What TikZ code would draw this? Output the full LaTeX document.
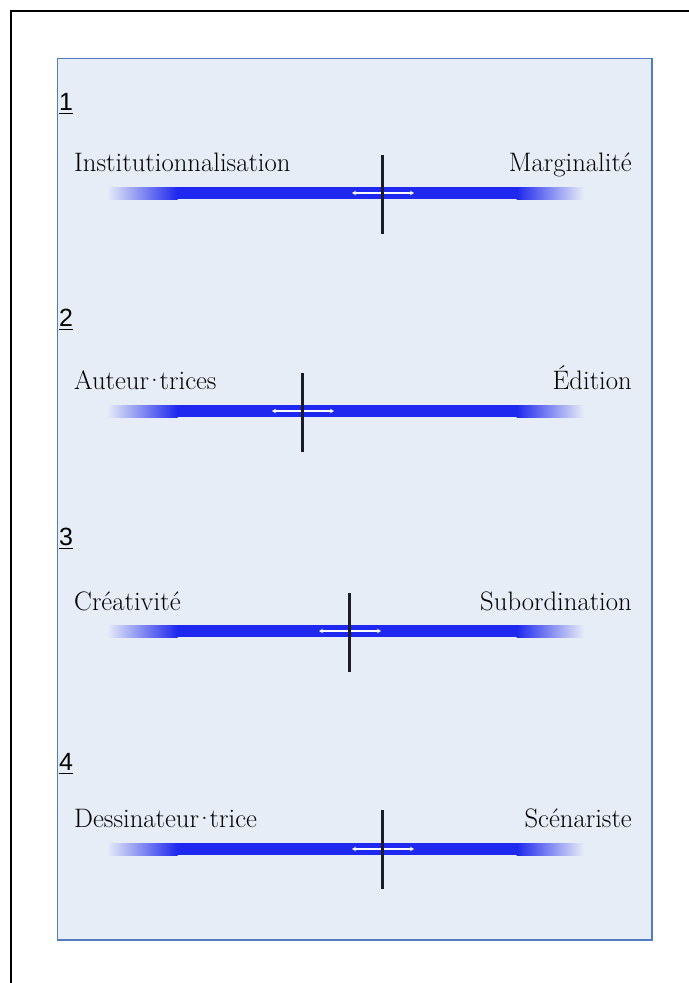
\documentclass[tikz,border=0pt]{standalone}
\usepackage{fontspec}
\newfontfamily\numfont{Liberation Sans}
\usetikzlibrary{arrows.meta}
\definecolor{fundo}{RGB}{231,237,246}
\definecolor{borda}{RGB}{79,125,190}
\definecolor{azul}{RGB}{30,40,238}
\definecolor{marca}{RGB}{28,28,40}

\begin{document}
\begin{tikzpicture}[x=1bp, y=-1bp,
    numero/.style={anchor=base west, inner sep=0pt, font=\numfont\fontsize{25}{29}\selectfont},
    rotulo/.style={inner sep=0pt, font=\fontsize{26.8}{31}\selectfont},
    barraE/.style={left color=fundo, right color=azul},
    barraD/.style={left color=azul, right color=fundo},
    marcador/.style={line width=3bp, marca},
    seta/.style={white, line width=1.2bp, {Stealth[length=4bp,width=4.5bp]}-{Stealth[length=4bp,width=4.5bp]}}]
        \useasboundingbox (0,0) rectangle (689,983);
        \draw[line width=1.3bp] (689,11) -- (11,11) -- (11,983); % Moldura externa
        \draw[borda, fill=fundo, line width=1.3bp] (57.5,58.5) rectangle (652,940); % Caixa

        % Escala 1
        \node[numero] (n1) at (59,110.5) {\underline{1\rule[-1.5pt]{0pt}{0pt}}}; % Número
        \node[rotulo, anchor=base west] (e1) at (74,171) {Institutionnalisation}; % Rótulo esquerdo
        \node[rotulo, anchor=base east] (d1) at (632,171) {Marginalité}; % Rótulo direito
        \shade[barraE] (107,187) rectangle (177.5,199); % Início da barra
        \fill[azul] (177,187) rectangle (517,199); % Meio da barra
        \shade[barraD] (516.5,187) rectangle (584,199); % Fim da barra
        \coordinate (s1a) at (352,193);
        \coordinate (s1b) at (414,193);
        \coordinate (m1a) at (382,155);
        \coordinate (m1b) at (382,234);
        \draw[seta] (s1a) -- (s1b); % Seta dupla
        \draw[marcador] (m1a) -- (m1b); % Marcador

        % Escala 2
        \node[numero] (n2) at (59,326) {\underline{2\rule[-1.5pt]{0pt}{0pt}}}; % Número
        \node[rotulo, anchor=base west] (e2) at (74,389) {Auteur\kern-.16em·\kern-.16em trices}; % Rótulo esquerdo
        \node[rotulo, anchor=base east] (d2) at (632,389) {Édition}; % Rótulo direito
        \shade[barraE] (107,405) rectangle (177.5,417); % Início da barra
        \fill[azul] (177,405) rectangle (517,417); % Meio da barra
        \shade[barraD] (516.5,405) rectangle (584,417); % Fim da barra
        \coordinate (s2a) at (272,411);
        \coordinate (s2b) at (334,411);
        \coordinate (m2a) at (302.5,373);
        \coordinate (m2b) at (302.5,452);
        \draw[seta] (s2a) -- (s2b); % Seta dupla
        \draw[marcador] (m2a) -- (m2b); % Marcador

        % Escala 3
        \node[numero] (n3) at (59,545) {\underline{3\rule[-1.5pt]{0pt}{0pt}}}; % Número
        \node[rotulo, anchor=base west] (e3) at (74,610) {Créativité}; % Rótulo esquerdo
        \node[rotulo, anchor=base east] (d3) at (632,610) {Subordination}; % Rótulo direito
        \shade[barraE] (107,625) rectangle (177.5,637); % Início da barra
        \fill[azul] (177,625) rectangle (517,637); % Meio da barra
        \shade[barraD] (516.5,625) rectangle (584,637); % Fim da barra
        \coordinate (s3a) at (319,631);
        \coordinate (s3b) at (381,631);
        \coordinate (m3a) at (349,593);
        \coordinate (m3b) at (349,672);
        \draw[seta] (s3a) -- (s3b); % Seta dupla
        \draw[marcador] (m3a) -- (m3b); % Marcador

        % Escala 4
        \node[numero] (n4) at (59,770) {\underline{4\rule[-1.5pt]{0pt}{0pt}}}; % Número
        \node[rotulo, anchor=base west] (e4) at (74,827) {Dessinateur\kern-.16em·\kern-.16em trice}; % Rótulo esquerdo
        \node[rotulo, anchor=base east] (d4) at (632,827) {Scénariste}; % Rótulo direito
        \shade[barraE] (107,843) rectangle (177.5,855); % Início da barra
        \fill[azul] (177,843) rectangle (517,855); % Meio da barra
        \shade[barraD] (516.5,843) rectangle (584,855); % Fim da barra
        \coordinate (s4a) at (352,849);
        \coordinate (s4b) at (414,849);
        \coordinate (m4a) at (382,810);
        \coordinate (m4b) at (382,889);
        \draw[seta] (s4a) -- (s4b); % Seta dupla
        \draw[marcador] (m4a) -- (m4b); % Marcador
\end{tikzpicture}
\end{document}
